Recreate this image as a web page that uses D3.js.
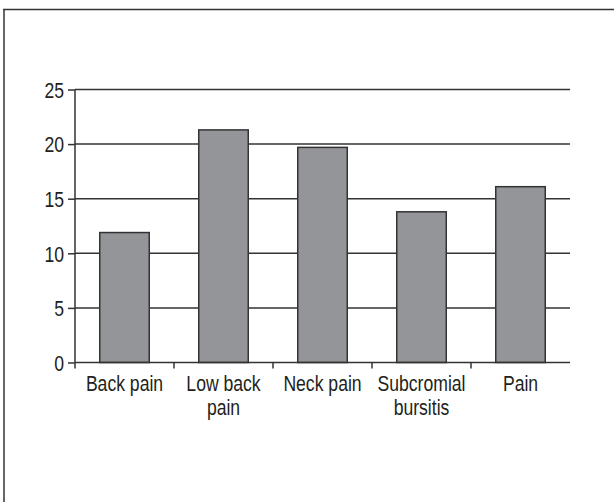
<!DOCTYPE html>
<html><head><meta charset="utf-8">
<script src="https://cdn.jsdelivr.net/npm/d3@7"></script>
<style>
html,body{margin:0;padding:0;background:#fff;}
svg{display:block;}
text{font-family:"Liberation Sans",Arial,sans-serif;fill:#231f20;}
</style></head>
<body>
<script>
const categories = [["Back pain"], ["Low back", "pain"], ["Neck pain"], ["Subcromial", "bursitis"], ["Pain"]];
const values = [11.9, 21.3, 19.7, 13.8, 16.1];
const yTicks = [0, 5, 10, 15, 20, 25];

const W = 614, H = 502;
const svg = d3.select("body").append("svg").attr("width", W).attr("height", H);
const ink = "#333";
const FS = 22, SX = 0.8;   // condensed type: font size and horizontal squeeze

// outer frame (clipped at right/bottom)
svg.append("line").attr("x1", 4).attr("x2", 4).attr("y1", 9).attr("y2", H).attr("stroke", ink).attr("stroke-width", 1.5);
svg.append("line").attr("x1", 3.25).attr("x2", W).attr("y1", 9.5).attr("y2", 9.5).attr("stroke", ink).attr("stroke-width", 1.5);

const mLeft = 75, mRight = 570, mTop = 89.5, mBottom = 362.5;
const keys = categories.map((c, i) => i);
const x = d3.scaleBand().domain(keys).range([mLeft, mRight]).paddingInner(0).paddingOuter(0);
const y = d3.scaleLinear().domain([0, 25]).range([mBottom, mTop]);
const barW = x.bandwidth() * 0.5;

// gridlines
svg.append("g").selectAll("line").data(yTicks.filter(t => t > 0)).join("line")
  .attr("x1", mLeft).attr("x2", mRight)
  .attr("y1", d => y(d)).attr("y2", d => y(d))
  .attr("stroke", ink).attr("stroke-width", 1.5);

// y axis
const yAxis = svg.append("g").attr("transform", `translate(${mLeft},0)`)
  .call(d3.axisLeft(y).tickValues(yTicks).tickSize(7).tickPadding(4));
yAxis.select(".domain").attr("stroke", ink).attr("stroke-width", 1.5).attr("d", `M0,${mTop}V${mBottom}`);
yAxis.selectAll(".tick line").attr("stroke", ink).attr("stroke-width", 1.5);
yAxis.selectAll(".tick text")
  .style("font-size", FS + "px").style("font-family", '"Liberation Sans",Arial,sans-serif')
  .attr("fill", "#231f20")
  .attr("x", -11 / SX).attr("dy", "0.35em")
  .attr("transform", `scale(${SX},1)`);

// bars
svg.append("g").selectAll("rect").data(values).join("rect")
  .attr("x", (d, i) => x(i) + (x.bandwidth() - barW) / 2)
  .attr("width", barW)
  .attr("y", d => y(d))
  .attr("height", d => y(0) - y(d))
  .attr("fill", "#939598").attr("stroke", ink).attr("stroke-width", 1.5);

// x axis
const xAxis = svg.append("g").attr("transform", `translate(0,${mBottom})`);
xAxis.append("line").attr("x1", mLeft).attr("x2", mRight).attr("y1", 0).attr("y2", 0)
  .attr("stroke", ink).attr("stroke-width", 1.5);
const boundaries = keys.map(i => x(i));
xAxis.selectAll("line.tk").data(boundaries).join("line").attr("class", "tk")
  .attr("x1", d => d).attr("x2", d => d).attr("y1", 0).attr("y2", 6)
  .attr("stroke", ink).attr("stroke-width", 1.5);

const lbl = svg.append("g").selectAll("text").data(categories).join("text")
  .attr("text-anchor", "middle")
  .attr("transform", (d, i) => `translate(${x(i) + x.bandwidth() / 2},391) scale(${SX},1)`)
  .style("font-size", FS + "px");
lbl.selectAll("tspan").data(d => d).join("tspan")
  .attr("x", 0)
  .attr("dy", (d, i) => i === 0 ? 0 : 24)
  .text(d => d);
</script>
</body></html>
